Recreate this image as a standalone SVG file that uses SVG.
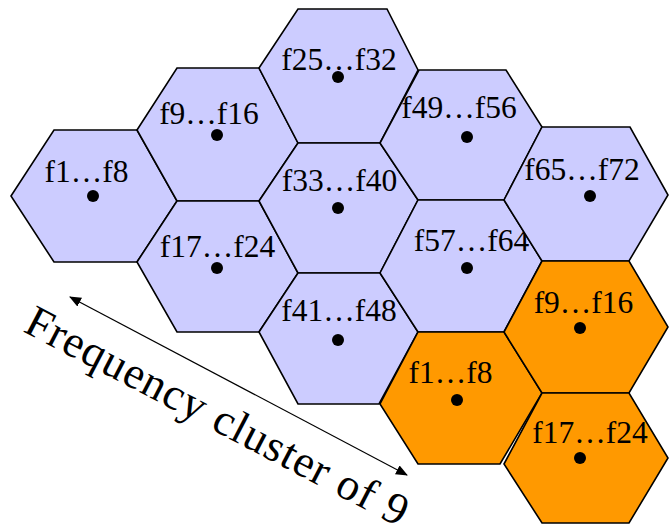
<svg xmlns="http://www.w3.org/2000/svg" width="669" height="526" viewBox="0 0 669 526">
<style>
.lav{fill:#CCCCFF;stroke:#000;stroke-width:1.6;stroke-linejoin:miter}
.org{fill:#FF9900;stroke:#000;stroke-width:1.6;stroke-linejoin:miter}
.dot{fill:#000}
.lbl{font-family:"Liberation Serif","Times New Roman",serif;font-size:31.5px;fill:#000;text-anchor:middle}
.cap{font-family:"Liberation Serif","Times New Roman",serif;font-size:45px;fill:#000}
.conn{stroke:#000;stroke-width:1.2;fill:none}
</style>
<defs>
<marker id="ah" viewBox="0 0 12 10" refX="11" refY="5" markerWidth="12" markerHeight="10" markerUnits="userSpaceOnUse" orient="auto-start-reverse">
<path d="M0,0 L12,5 L0,10 Z" fill="#000"/>
</marker>
</defs>
<g id="h-f1-8"><polygon class="lav" points="11,196 54,130 137,130 177,201 137,262 54,262"/><circle class="dot" cx="93" cy="196" r="6"/><text class="lbl" x="86.5" y="182">f1…f8</text></g>
<g id="h-f9-16"><polygon class="lav" points="137,130 177,68 259,68 298,143 259,201 177,201"/><circle class="dot" cx="217" cy="135" r="6"/><text class="lbl" x="209" y="124">f9…f16</text></g>
<g id="h-f17-24"><polygon class="lav" points="137,262 177,201 259,201 298,273 259,332 177,332"/><circle class="dot" cx="217" cy="268" r="6"/><text class="lbl" x="217.5" y="257">f17…f24</text></g>
<g id="h-f25-32"><polygon class="lav" points="259,68 298,9 387,9 418,70 380,143 298,143"/><circle class="dot" cx="338" cy="77" r="6"/><text class="lbl" x="339" y="70">f25…f32</text></g>
<g id="h-f33-40"><polygon class="lav" points="259,201 298,143 380,143 418,200 380,273 298,273"/><circle class="dot" cx="338" cy="208" r="6"/><text class="lbl" x="339.5" y="191">f33…f40</text></g>
<g id="h-f41-48"><polygon class="lav" points="259,332 298,273 380,273 418,332 379,404 298,404"/><circle class="dot" cx="338" cy="340" r="6"/><text class="lbl" x="339" y="321">f41…f48</text></g>
<g id="h-f49-56"><polygon class="lav" points="380,143 419,70 506,70 542,127 504,200 418,200"/><circle class="dot" cx="467" cy="137" r="6"/><text class="lbl" x="459" y="118">f49…f56</text></g>
<g id="h-f57-64"><polygon class="lav" points="380,273 418,200 504,200 542,261 504,332 418,332"/><circle class="dot" cx="467" cy="268" r="6"/><text class="lbl" x="471.5" y="251">f57…f64</text></g>
<g id="h-f65-72"><polygon class="lav" points="504,200 542,127 630,127 668,195 629,261 542,261"/><circle class="dot" cx="590" cy="196" r="6"/><text class="lbl" x="582" y="180">f65…f72</text></g>
<g id="o-f1-8"><polygon class="org" points="380,404 418,332 504,332 542,393 500,464 418,464"/><circle class="dot" cx="457" cy="400" r="6"/><text class="lbl" x="450.5" y="383">f1…f8</text></g>
<g id="o-f9-16"><polygon class="org" points="504,332 542,261 629,261 668,327 629,393 542,393"/><circle class="dot" cx="580" cy="328" r="6"/><text class="lbl" x="583.5" y="313">f9…f16</text></g>
<g id="o-f17-24"><polygon class="org" points="504,464 542,393 629,393 668,458 629,523 542,523"/><circle class="dot" cx="580" cy="458" r="6"/><text class="lbl" x="590" y="443">f17…f24</text></g>
<g id="connectors">
<line class="conn" x1="70" y1="297" x2="407" y2="475" marker-start="url(#ah)" marker-end="url(#ah)"/>
</g>
<text class="cap" transform="translate(22,331) rotate(27.5)" textLength="425" lengthAdjust="spacing">Frequency cluster of 9</text>
</svg>
